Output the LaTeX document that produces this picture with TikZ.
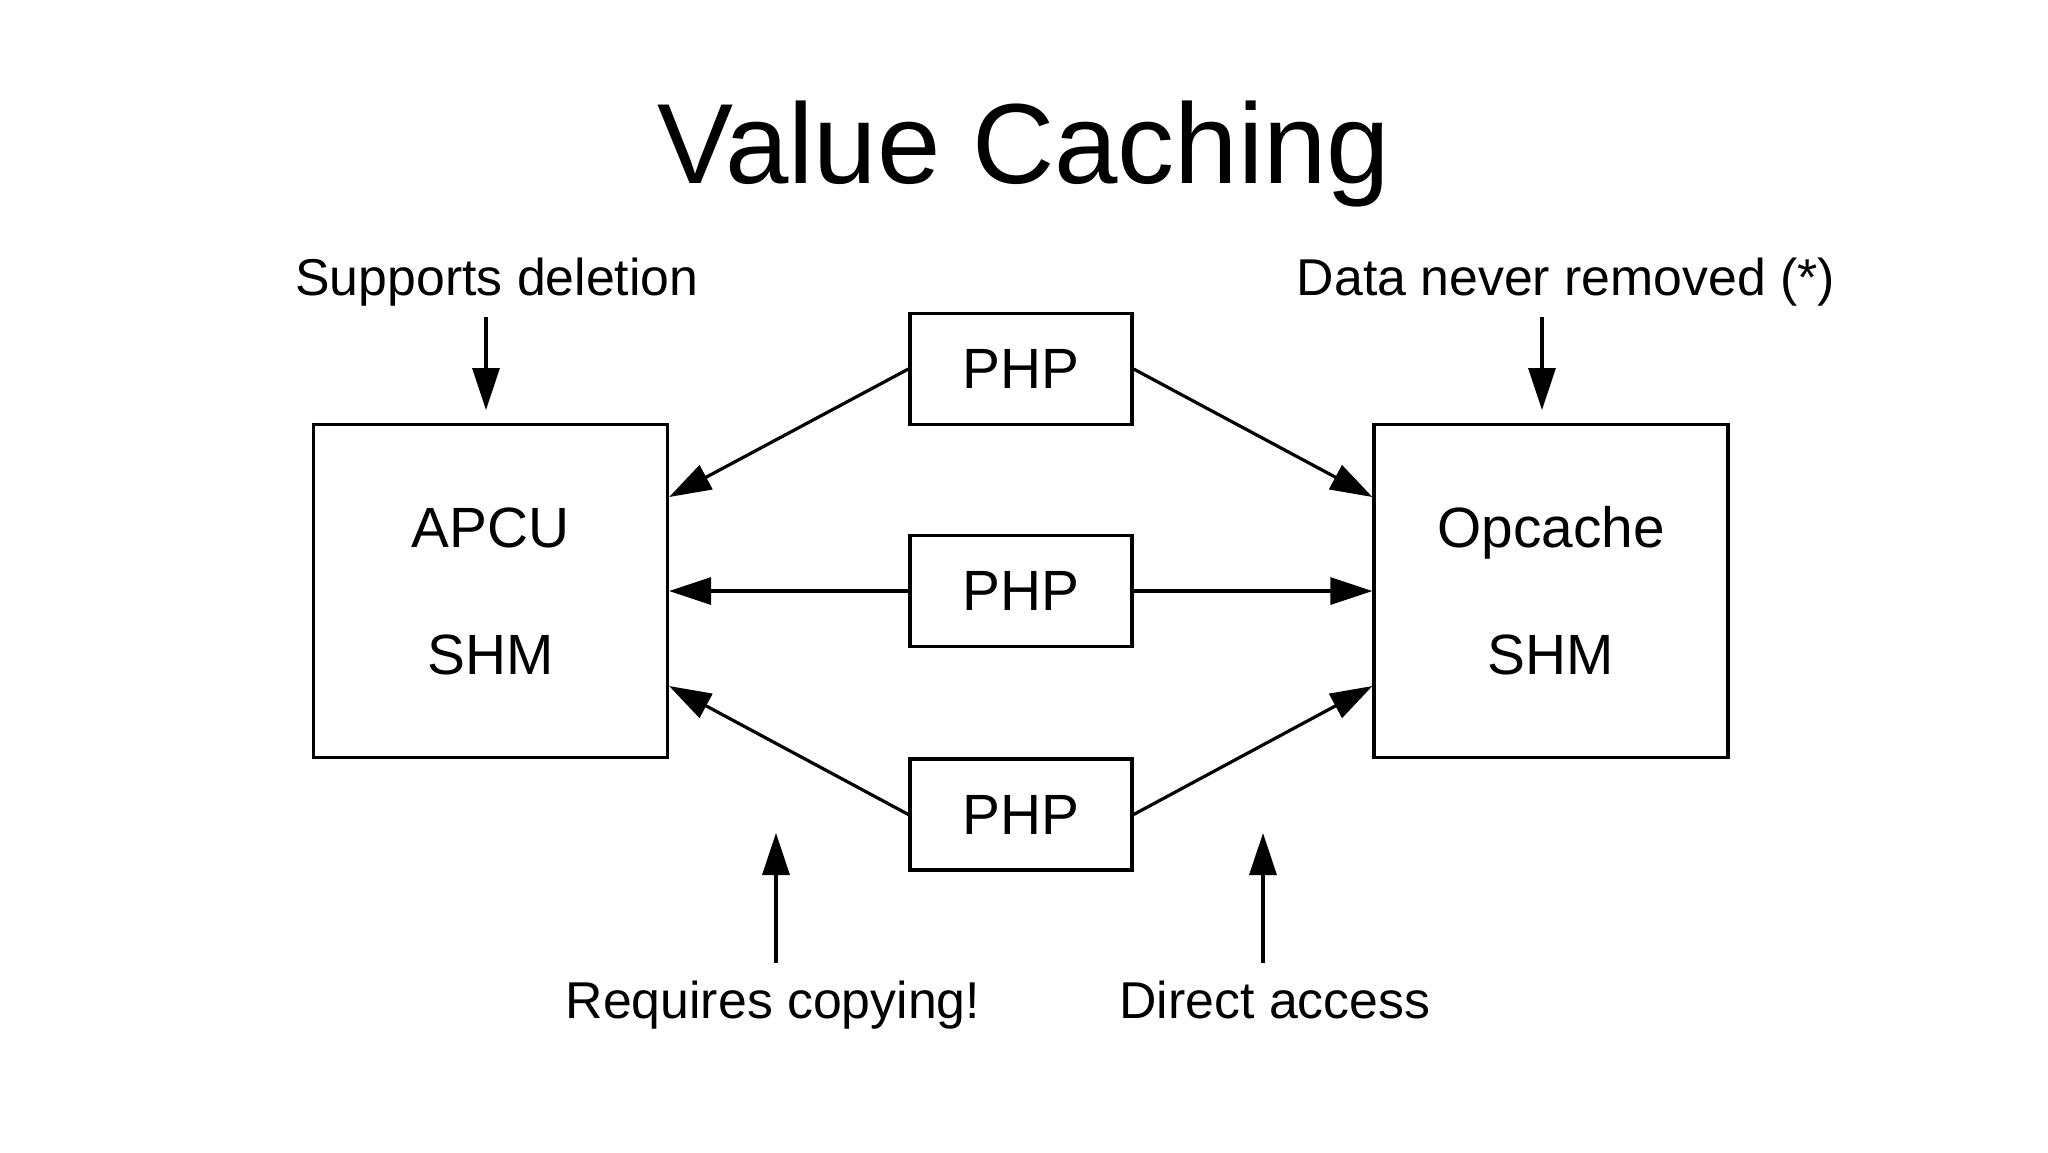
\documentclass[tikz,border=0pt]{standalone}
\usepackage{fontspec}
\setmainfont{Liberation Sans}
\usetikzlibrary{arrows.meta,calc}
\begin{document}
\begin{tikzpicture}[x=0.5pt,y=-0.5pt,
  box/.style={draw,line width=1.6pt,inner sep=0pt,font=\fontsize{28.4}{63.5}\selectfont,align=center},
  phpbox/.style={box,minimum width=111pt,minimum height=55.5pt},
  shmbox/.style={box,minimum width=177pt,minimum height=166.5pt},
  lbl/.style={anchor=base,inner sep=0pt,font=\fontsize{25.9}{30}\selectfont},
  arr/.style={line width=1.6pt,-{Triangle[length=21pt,width=13.5pt]}}]
\useasboundingbox (0,0) rectangle (2048,1152);
\node[anchor=base,inner sep=0pt,font=\fontsize{57}{68}\selectfont] (title) at (1024,183) {Value Caching};
\node[shmbox] (apcu) at (490.5,591) {APCU\\SHM};
\node[shmbox] (opc) at (1551,591) {Opcache\\SHM};
\node[phpbox] (p1) at (1021,369) {PHP};
\node[phpbox] (p2) at (1021,591) {PHP};
\node[phpbox] (p3) at (1021,814.5) {PHP};
\node[lbl] (sup) at (497,295) {Supports deletion};
\node[lbl] (dnr) at (1566,295) {Data never removed (*)};
\node[lbl] (req) at (773,1018) {Requires copying!};
\node[lbl] (dir) at (1275,1018) {Direct access};
\coordinate (aT) at ($(apcu.east)+(0,-94)$);
\coordinate (aB) at ($(apcu.east)+(0,95)$);
\coordinate (oT) at ($(opc.west)+(0,-94)$);
\coordinate (oB) at ($(opc.west)+(0,95)$);
\draw[arr] (p1.west) -- (aT);
\draw[arr] (p1.east) -- (oT);
\draw[arr] (p2.west) -- (apcu.east);
\draw[arr] (p2.east) -- (opc.west);
\draw[arr] (p3.west) -- (aB);
\draw[arr] (p3.east) -- (oB);
\coordinate (s1) at (486,317);
\coordinate (s2) at (486,410);
\coordinate (d1) at (1542,317);
\coordinate (d2) at (1542,410);
\coordinate (r1) at (776,963);
\coordinate (r2) at (776,833);
\coordinate (e1) at (1263,963);
\coordinate (e2) at (1263,833);
\draw[arr] (s1) -- (s2);
\draw[arr] (d1) -- (d2);
\draw[arr] (r1) -- (r2);
\draw[arr] (e1) -- (e2);
\end{tikzpicture}
\end{document}
